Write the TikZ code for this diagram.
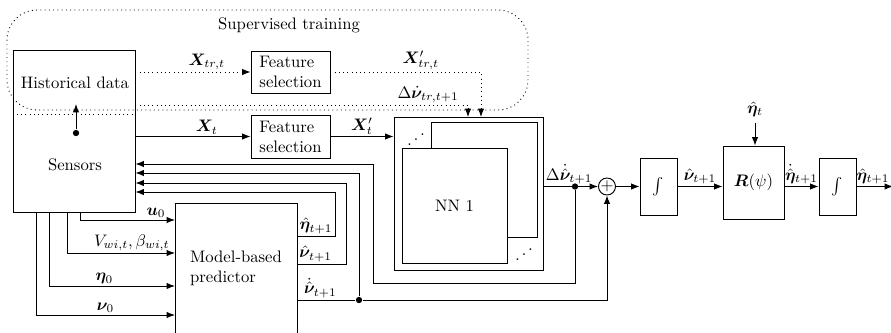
\documentclass[tikz,border=0pt]{standalone}
\usepackage{amsmath,bm}
\usetikzlibrary{arrows.meta}
\begin{document}
\begin{tikzpicture}[x=0.6pt,y=-0.6pt,>={Latex[length=5pt,width=3.8pt]},line width=0.55pt,
  box/.style={draw,fill=white,inner sep=0pt,align=left},
  lbl/.style={inner sep=1pt},
  dot/.style={circle,fill,inner sep=0pt,minimum size=3.8pt}]
\def\blk#1#2#3#4#5#6{
\node [box,minimum width={(#4-#2)*0.6pt},minimum height={(#5-#3)*0.6pt}] (#1) at ({(#2+#4)/2},{(#3+#5)/2}) {#6};
}
\useasboundingbox (0,0) rectangle (891,332);
\clip (0,0) rectangle (891,332);
\blk{sens}{13}{50}{135}{212}{}
\blk{fsa}{251}{51}{330}{93}{Feature\\selection}
\blk{fsb}{251}{115}{330}{158}{Feature\\selection}
\blk{nn}{394}{117}{543}{270}{}
\blk{nnb}{431}{122}{537}{237}{}
\blk{nnf}{402}{148}{507}{263}{NN 1}
\blk{pred}{175}{203}{297}{334}{Model-based\\predictor}
\blk{inta}{640}{158}{677}{215}{$\int$}
\blk{rot}{723}{146}{784}{219}{$\bm{R}(\psi)$}
\blk{intb}{819}{158}{856}{215}{$\int$}
\node [draw,circle,inner sep=0pt] (sum) at (607,186.5) {$+$};
\node (hist) at (75,83) {Historical data};
\node (senst) at (75,165) {Sensors};
\node (sup) at (289,25) {Supervised training};
\node (dta) at (416,135) {\reflectbox{$\ddots$}};
\node (dtb) at (524,250) {\reflectbox{$\ddots$}};
\node [dot] (dc) at (76,133) {};
\node [dot] (da) at (575,186.5) {};
\node [dot] (db) at (359,300) {};
\node (etat) at (755,109) {$\hat{\bm{\eta}}_t$};
\coordinate (hd) at (76,104);
\coordinate (lvh) at (0,114);
\coordinate (lvd) at (0,105);
\coordinate (ina) at (481,117);
\coordinate (inb) at (468,117);
\coordinate (oa) at (297,236);
\coordinate (ob) at (297,264);
\coordinate (oc) at (297,300);
\coordinate (ka) at (335,192);
\coordinate (kb) at (346,183);
\coordinate (kc) at (359,173);
\coordinate (kd) at (373,164);
\coordinate (ke) at (373,283);
\coordinate (sa) at (80,212);
\coordinate (sb) at (67,212);
\coordinate (sc) at (49,212);
\coordinate (sd) at (36,212);
\coordinate (ia) at (175,220);
\coordinate (ib) at (175,253);
\coordinate (ic) at (175,286);
\coordinate (id) at (175,315);
\coordinate (out) at (893,186.5);
\draw [dotted,rounded corners=18pt] (7,10) rectangle (528,110);
\draw [dotted] (sens.west |- lvh) -- (sens.east |- lvh);
\draw [->] (dc) -- (hd);
\draw [dotted,->] (sens.east |- fsa) -- (fsa.west) node [lbl,above,pos=.62] {$\bm{X}_{tr,t}$};
\draw [dotted,->] (fsa.east) -| (ina) node [lbl,above,pos=.3] {$\bm{X}'_{tr,t}$};
\draw [dotted,->] (sens.east |- lvd) -| (inb) node [lbl,above,pos=.44] {$\Delta\dot{\bm{\nu}}_{tr,t+1}$};
\draw [->] (sens.east |- fsb) -- (fsb.west) node [lbl,above,pos=.62] {$\bm{X}_t$};
\draw [->] (fsb.east) -- (fsb.east -| nn.west) node [lbl,above,midway] {$\bm{X}'_t$};
\draw [->] (nn.east |- sum) -- (sum.west) node [lbl,above,pos=.47] {$\Delta\dot{\hat{\bm{\nu}}}_{t+1}$};
\draw [->] (da) |- (ke) -- (kd) -- (kd -| sens.east);
\draw [->] (oa) -| (ka) node [lbl,above,pos=.25] {$\hat{\bm{\eta}}_{t+1}$} -- (ka -| sens.east);
\draw [->] (ob) -| (kb) node [lbl,above,pos=.19] {$\hat{\bm{\nu}}_{t+1}$} -- (kb -| sens.east);
\draw (oc) -- (db) node [lbl,above,pos=.4] {$\dot{\hat{\bm{\nu}}}_{t+1}$};
\draw [->] (db) -- (kc) -- (kc -| sens.east);
\draw [->] (db) -| (sum.south);
\draw [->] (sa) |- (ia) node [lbl,above,pos=.9] {$\bm{u}_0$};
\draw [->] (sb) |- (ib) node [lbl,above,pos=.8] {$V_{wi,t},\beta_{wi,t}$};
\draw [->] (sc) |- (ic) node [lbl,above,pos=.72] {$\bm{\eta}_0$};
\draw [->] (sd) |- (id) node [lbl,above,pos=.75] {$\bm{\nu}_0$};
\draw [->] (sum.east) -- (sum.east -| inta.west);
\draw [->] (inta.east) -- (inta.east -| rot.west) node [lbl,above,midway] {$\hat{\bm{\nu}}_{t+1}$};
\draw [->] (rot.east |- intb) -- (intb.west) node [lbl,above,midway] {$\dot{\hat{\bm{\eta}}}_{t+1}$};
\draw [->] (intb.east) -- (out) node [lbl,above,pos=.45] {$\hat{\bm{\eta}}_{t+1}$};
\draw [->] (etat) -- (etat |- rot.north);
\end{tikzpicture}
\end{document}
